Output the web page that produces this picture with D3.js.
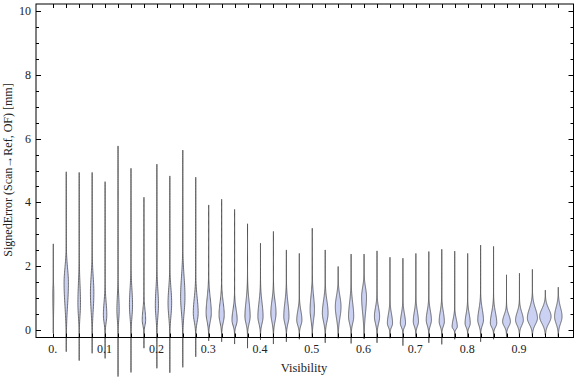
<!DOCTYPE html>
<html>
<head>
<meta charset="utf-8">
<script src="https://cdn.jsdelivr.net/npm/d3@7"></script>
<style>
  html, body { margin: 0; padding: 0; background: #fff; }
  svg { display: block; }
  text { font-family: "Liberation Serif", "Times New Roman", serif; fill: #222; }
</style>
</head>
<body>
<svg id="chart" width="576" height="377"></svg>
<script>
// one violin per visibility bin
const visibility = [0, 0.025, 0.05, 0.075, 0.1, 0.125, 0.15, 0.175, 0.2, 0.225,
  0.25, 0.275, 0.3, 0.325, 0.35, 0.375, 0.4, 0.425, 0.45, 0.475,
  0.5, 0.525, 0.55, 0.575, 0.6, 0.625, 0.65, 0.675, 0.7, 0.725,
  0.75, 0.775, 0.8, 0.825, 0.85, 0.875, 0.9, 0.925, 0.95, 0.975];
const maxError = [2.70, 4.96, 4.94, 4.94, 4.65, 5.77, 5.07, 4.16, 5.20, 4.83,
  5.64, 4.79, 3.92, 4.10, 3.78, 3.33, 2.72, 3.09, 2.51, 2.40,
  3.19, 2.51, 1.99, 2.38, 2.38, 2.48, 2.28, 2.25, 2.40, 2.46,
  2.53, 2.47, 2.40, 2.66, 2.62, 1.73, 1.78, 1.90, 1.25, 1.34];
const minError = [-0.10, -0.68, -0.96, -0.73, -0.89, -1.46, -1.33, -0.57, -1.20, -1.34,
  -1.17, -0.84, -0.34, -0.37, -0.44, -0.57, -0.31, -0.44, -0.37, -0.29,
  -0.21, -0.40, -0.26, -0.42, -0.28, -0.40, -0.26, -0.49, -0.21, -0.40,
  -0.45, -0.29, -0.23, -0.37, -0.29, -0.21, -0.21, -0.19, -0.16, -0.21];
// most frequent error, peak density (relative) and upper spread of the bulge
const modeError = [1.10, 1.47, 0.84, 1.16, 0.47, 0.63, 0.78, 0.31, 0.78, 0.84,
  1.04, 0.53, 0.53, 0.47, 0.31, 0.42, 0.42, 0.53, 0.42, 0.31,
  0.63, 0.53, 0.73, 0.42, 1.04, 0.42, 0.21, 0.21, 0.26, 0.31,
  0.26, 0.10, 0.21, 0.31, 0.21, 0.26, 0.31, 0.37, 0.42, 0.42];
const peakDensity = [0.10, 0.42, 0.25, 0.33, 0.33, 0.22, 0.30, 0.33, 0.30, 0.35,
  0.42, 0.47, 0.5, 0.5, 0.5, 0.5, 0.5, 0.5, 0.5, 0.5,
  0.42, 0.55, 0.55, 0.5, 0.47, 0.5, 0.5, 0.5, 0.5, 0.5,
  0.5, 0.5, 0.5, 0.55, 0.62, 0.75, 0.75, 0.97, 1.1, 0.72];
const upperSpread = [0.30, 0.47, 0.61, 0.52, 0.40, 0.43, 0.50, 0.33, 0.50, 0.47,
  0.62, 0.47, 0.47, 0.40, 0.33, 0.47, 0.43, 0.38, 0.43, 0.29,
  0.43, 0.38, 0.33, 0.43, 0.29, 0.28, 0.29, 0.29, 0.31, 0.29,
  0.31, 0.24, 0.29, 0.33, 0.33, 0.21, 0.24, 0.30, 0.24, 0.28];
const xTicks = [0, 0.1, 0.2, 0.3, 0.4, 0.5, 0.6, 0.7, 0.8, 0.9];
const xTickLabels = ['0.', '0.1', '0.2', '0.3', '0.4', '0.5', '0.6', '0.7', '0.8', '0.9'];
const yTicks = [0, 2, 4, 6, 8, 10];

const svg = d3.select('#chart');
const frame = { left: 36, right: 573.5, top: 4, bottom: 337.5 };

const x = d3.scaleLinear().domain([0, 0.975]).range([53.3, 558.3]);
const y = d3.scaleLinear().domain([0, 10]).range([330, 11]);
const w = d3.scaleLinear().domain([0, 1]).range([0, 5.2]);

const violins = visibility.map((v, i) => ({
  v,
  lo: minError[i],
  hi: maxError[i],
  mode: modeError[i],
  peak: peakDensity[i],
  sHi: upperSpread[i],
  sLo: (modeError[i] + 0.05) / 2.2,
}));

function profile (d) {
  const n = 120;
  const pts = [];
  for (let k = 0; k <= n; k++) {
    const e = d.lo + (d.hi - d.lo) * k / n;
    const s = e < d.mode ? d.sLo : d.sHi;
    const g = Math.exp(-0.5 * Math.pow((e - d.mode) / s, 2));
    pts.push({ e, h: w(d.peak) * g });
  }
  return pts;
}

const g = svg.append('g');
violins.forEach(d => {
  const cx = x(d.v);
  const area = d3.area()
    .x0(p => cx - p.h)
    .x1(p => cx + p.h)
    .y(p => y(p.e))
    .curve(d3.curveBasis);
  g.append('path')
    .attr('class', 'violin')
    .attr('d', area(profile(d)))
    .attr('fill', '#cbd1f3')
    .attr('stroke', '#4a4a4a')
    .attr('stroke-width', 0.8)
    .attr('stroke-linejoin', 'round');
});

// frame
svg.append('rect')
  .attr('x', frame.left)
  .attr('y', frame.top)
  .attr('width', frame.right - frame.left)
  .attr('height', frame.bottom - frame.top)
  .attr('fill', 'none')
  .attr('stroke', '#000')
  .attr('stroke-width', 1);

// ticks at each bin, top and bottom
const ticks = svg.append('g').attr('stroke', '#000').attr('stroke-width', 1);
visibility.forEach(v => {
  const px = Math.round(x(v)) + 0.5;
  ticks.append('line').attr('x1', px).attr('x2', px)
    .attr('y1', frame.bottom).attr('y2', frame.bottom - 4);
  ticks.append('line').attr('x1', px).attr('x2', px)
    .attr('y1', frame.top).attr('y2', frame.top + 4);
});

// y ticks, major every 2, minor every 0.5
d3.range(0, 10.01, 0.5).forEach(t => {
  const py = Math.round(y(t)) + 0.5;
  const len = t % 2 === 0 ? 5 : 3;
  ticks.append('line').attr('x1', frame.left).attr('x2', frame.left + len)
    .attr('y1', py).attr('y2', py);
  ticks.append('line').attr('x1', frame.right).attr('x2', frame.right - len)
    .attr('y1', py).attr('y2', py);
});

svg.append('g').selectAll('text')
  .data(yTicks)
  .join('text')
  .attr('x', 31)
  .attr('y', d => y(d) + 4)
  .attr('text-anchor', 'end')
  .attr('font-size', 12)
  .text(d => d);

svg.append('g').selectAll('text')
  .data(xTicks)
  .join('text')
  .attr('x', (d, i) => x(d) - 0.5)
  .attr('y', 353)
  .attr('text-anchor', 'middle')
  .attr('font-size', 12)
  .text((d, i) => xTickLabels[i]);

svg.append('text')
  .attr('x', 304)
  .attr('y', 372)
  .attr('text-anchor', 'middle')
  .attr('font-size', 12.5)
  .text('Visibility');

svg.append('text')
  .attr('transform', 'translate(12,170) rotate(-90)')
  .attr('text-anchor', 'middle')
  .attr('font-size', 12)
  .text('SignedError (Scan\u2192Ref, OF) [mm]');
</script>
</body>
</html>
